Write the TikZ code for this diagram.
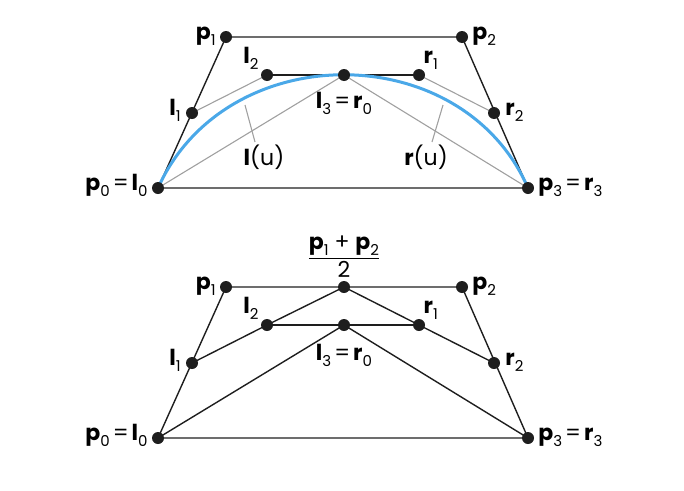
\documentclass[tikz,border=0pt]{standalone}
\usepackage{fontspec}
\usepackage{xcolor}
\usetikzlibrary{positioning}
\newfontfamily\lblfont{Poppins}
\definecolor{curveblue}{RGB}{74,168,232}
\definecolor{inkgray}{RGB}{30,30,30}
\definecolor{thingray}{RGB}{160,160,160}
\newcommand{\vlab}[2]{\textbf{#1}\raisebox{-6pt}{\fontsize{15}{15}\selectfont #2}}
\newcommand{\veq}{\hspace{3pt}=\hspace{3pt}}

\begin{document}
\begin{tikzpicture}[x=1pt, y=-1pt,
    every node/.style={font=\lblfont\fontsize{22}{24}\selectfont, inner sep=1pt},
    dot/.style={circle, fill=inkgray, inner sep=0pt, minimum size=12pt},
    hull/.style={draw=inkgray, line width=1.4pt},
    aux/.style={draw=thingray, line width=1.1pt},
    bez/.style={draw=curveblue, line width=3pt},
    lbl/.style={inner sep=0pt}]

  \useasboundingbox (0,0) rectangle (684,490);

  % Oben: Bezierkurve mit Teilung
  \coordinate (P0) at (158,188);
  \coordinate (P1) at (226,37);
  \coordinate (P2) at (462,37);
  \coordinate (P3) at (528,188);
  \coordinate (L1) at (192,113);
  \coordinate (L2) at (267,75);
  \coordinate (M)  at (344,75);
  \coordinate (R1) at (419,75);
  \coordinate (R2) at (494,113);

  % Hilfslinien
  \draw[aux] (L1) -- (L2);
  \draw[aux] (R1) -- (R2);
  \draw[aux] (P0) -- (M) -- (P3);
  \draw[aux] (245,105) -- (255,142);
  \draw[aux] (443,105) -- (432,142);

  % Kontrollpolygon
  \draw[hull] (P0) -- (P1) -- (P2) -- (P3) -- cycle;
  \draw[hull] (L2) -- (R1);

  % Kurve
  \draw[bez] (P0) .. controls (P1) and (P2) .. (P3);

  \foreach \q in {P0,P1,P2,P3,L1,L2,M,R1,R2}
    \node[dot] (d\q) at (\q) {};

  % Punkte beschriften
  \node[lbl, left=4pt of dP1, anchor=mid east] (tP1) {\vlab{p}{1}};
  \node[lbl, right=4pt of dP2, anchor=mid west] (tP2) {\vlab{p}{2}};
  \node[lbl, left=5pt of dL1, anchor=mid east] (tL1) {\vlab{l}{1}};
  \node[lbl, above left=1pt and 4pt of dL2] (tL2) {\vlab{l}{2}};
  \node[lbl, above right=1pt and 0pt of dR1] (tR1) {\vlab{r}{1}};
  \node[lbl, right=5pt of dR2, anchor=mid west] (tR2) {\vlab{r}{2}};
  \node[lbl, below=11pt of dM] (tM) {\vlab{l}{3}\veq\vlab{r}{0}};
  \node[lbl, left=4pt of dP0, anchor=mid east] (tP0) {\vlab{p}{0}\veq\vlab{l}{0}};
  \node[lbl, right=4pt of dP3, anchor=mid west] (tP3) {\vlab{p}{3}\veq\vlab{r}{3}};
  \node (tLu) at (264,157) {\textbf{l}(u)};
  \node (tRu) at (426,157) {\textbf{r}(u)};

  % Unten: Konstruktion
  \begin{scope}[yshift=-250pt]
    \coordinate (Q0) at (158,188);
    \coordinate (Q1) at (226,37);
    \coordinate (Q2) at (462,37);
    \coordinate (Q3) at (528,188);
    \coordinate (H)  at (344,37);
    \coordinate (K1) at (192,113);
    \coordinate (K2) at (267,75);
    \coordinate (N)  at (344,75);
    \coordinate (S1) at (419,75);
    \coordinate (S2) at (494,113);
  \end{scope}

  \draw[hull] (Q0) -- (Q1) -- (Q2) -- (Q3) -- cycle;
  \draw[hull] (K1) -- (K2) -- (H) -- (S1) -- (S2);
  \draw[hull] (K2) -- (S1);
  \draw[hull] (Q0) -- (N) -- (Q3);

  \foreach \q in {Q0,Q1,Q2,Q3,H,K1,K2,N,S1,S2}
    \node[dot] (d\q) at (\q) {};

  \node[lbl, left=4pt of dQ1, anchor=mid east] (tQ1) {\vlab{p}{1}};
  \node[lbl, right=4pt of dQ2, anchor=mid west] (tQ2) {\vlab{p}{2}};
  \node[lbl, left=5pt of dK1, anchor=mid east] (tK1) {\vlab{l}{1}};
  \node[lbl, above left=1pt and 4pt of dK2] (tK2) {\vlab{l}{2}};
  \node[lbl, above right=1pt and 0pt of dS1] (tS1) {\vlab{r}{1}};
  \node[lbl, right=5pt of dS2, anchor=mid west] (tS2) {\vlab{r}{2}};
  \node[lbl, below=13pt of dN] (tN) {\vlab{l}{3}\veq\vlab{r}{0}};
  \node[lbl, left=4pt of dQ0, anchor=mid east] (tQ0) {\vlab{p}{0}\veq\vlab{l}{0}};
  \node[lbl, right=4pt of dQ3, anchor=mid west] (tQ3) {\vlab{p}{3}\veq\vlab{r}{3}};
  \node[above=2pt of dH] (tH) {$\displaystyle\frac{\hbox{\lblfont\vlab{p}{1} + \vlab{p}{2}}}{\hbox{\lblfont 2}}$};

\end{tikzpicture}
\end{document}
